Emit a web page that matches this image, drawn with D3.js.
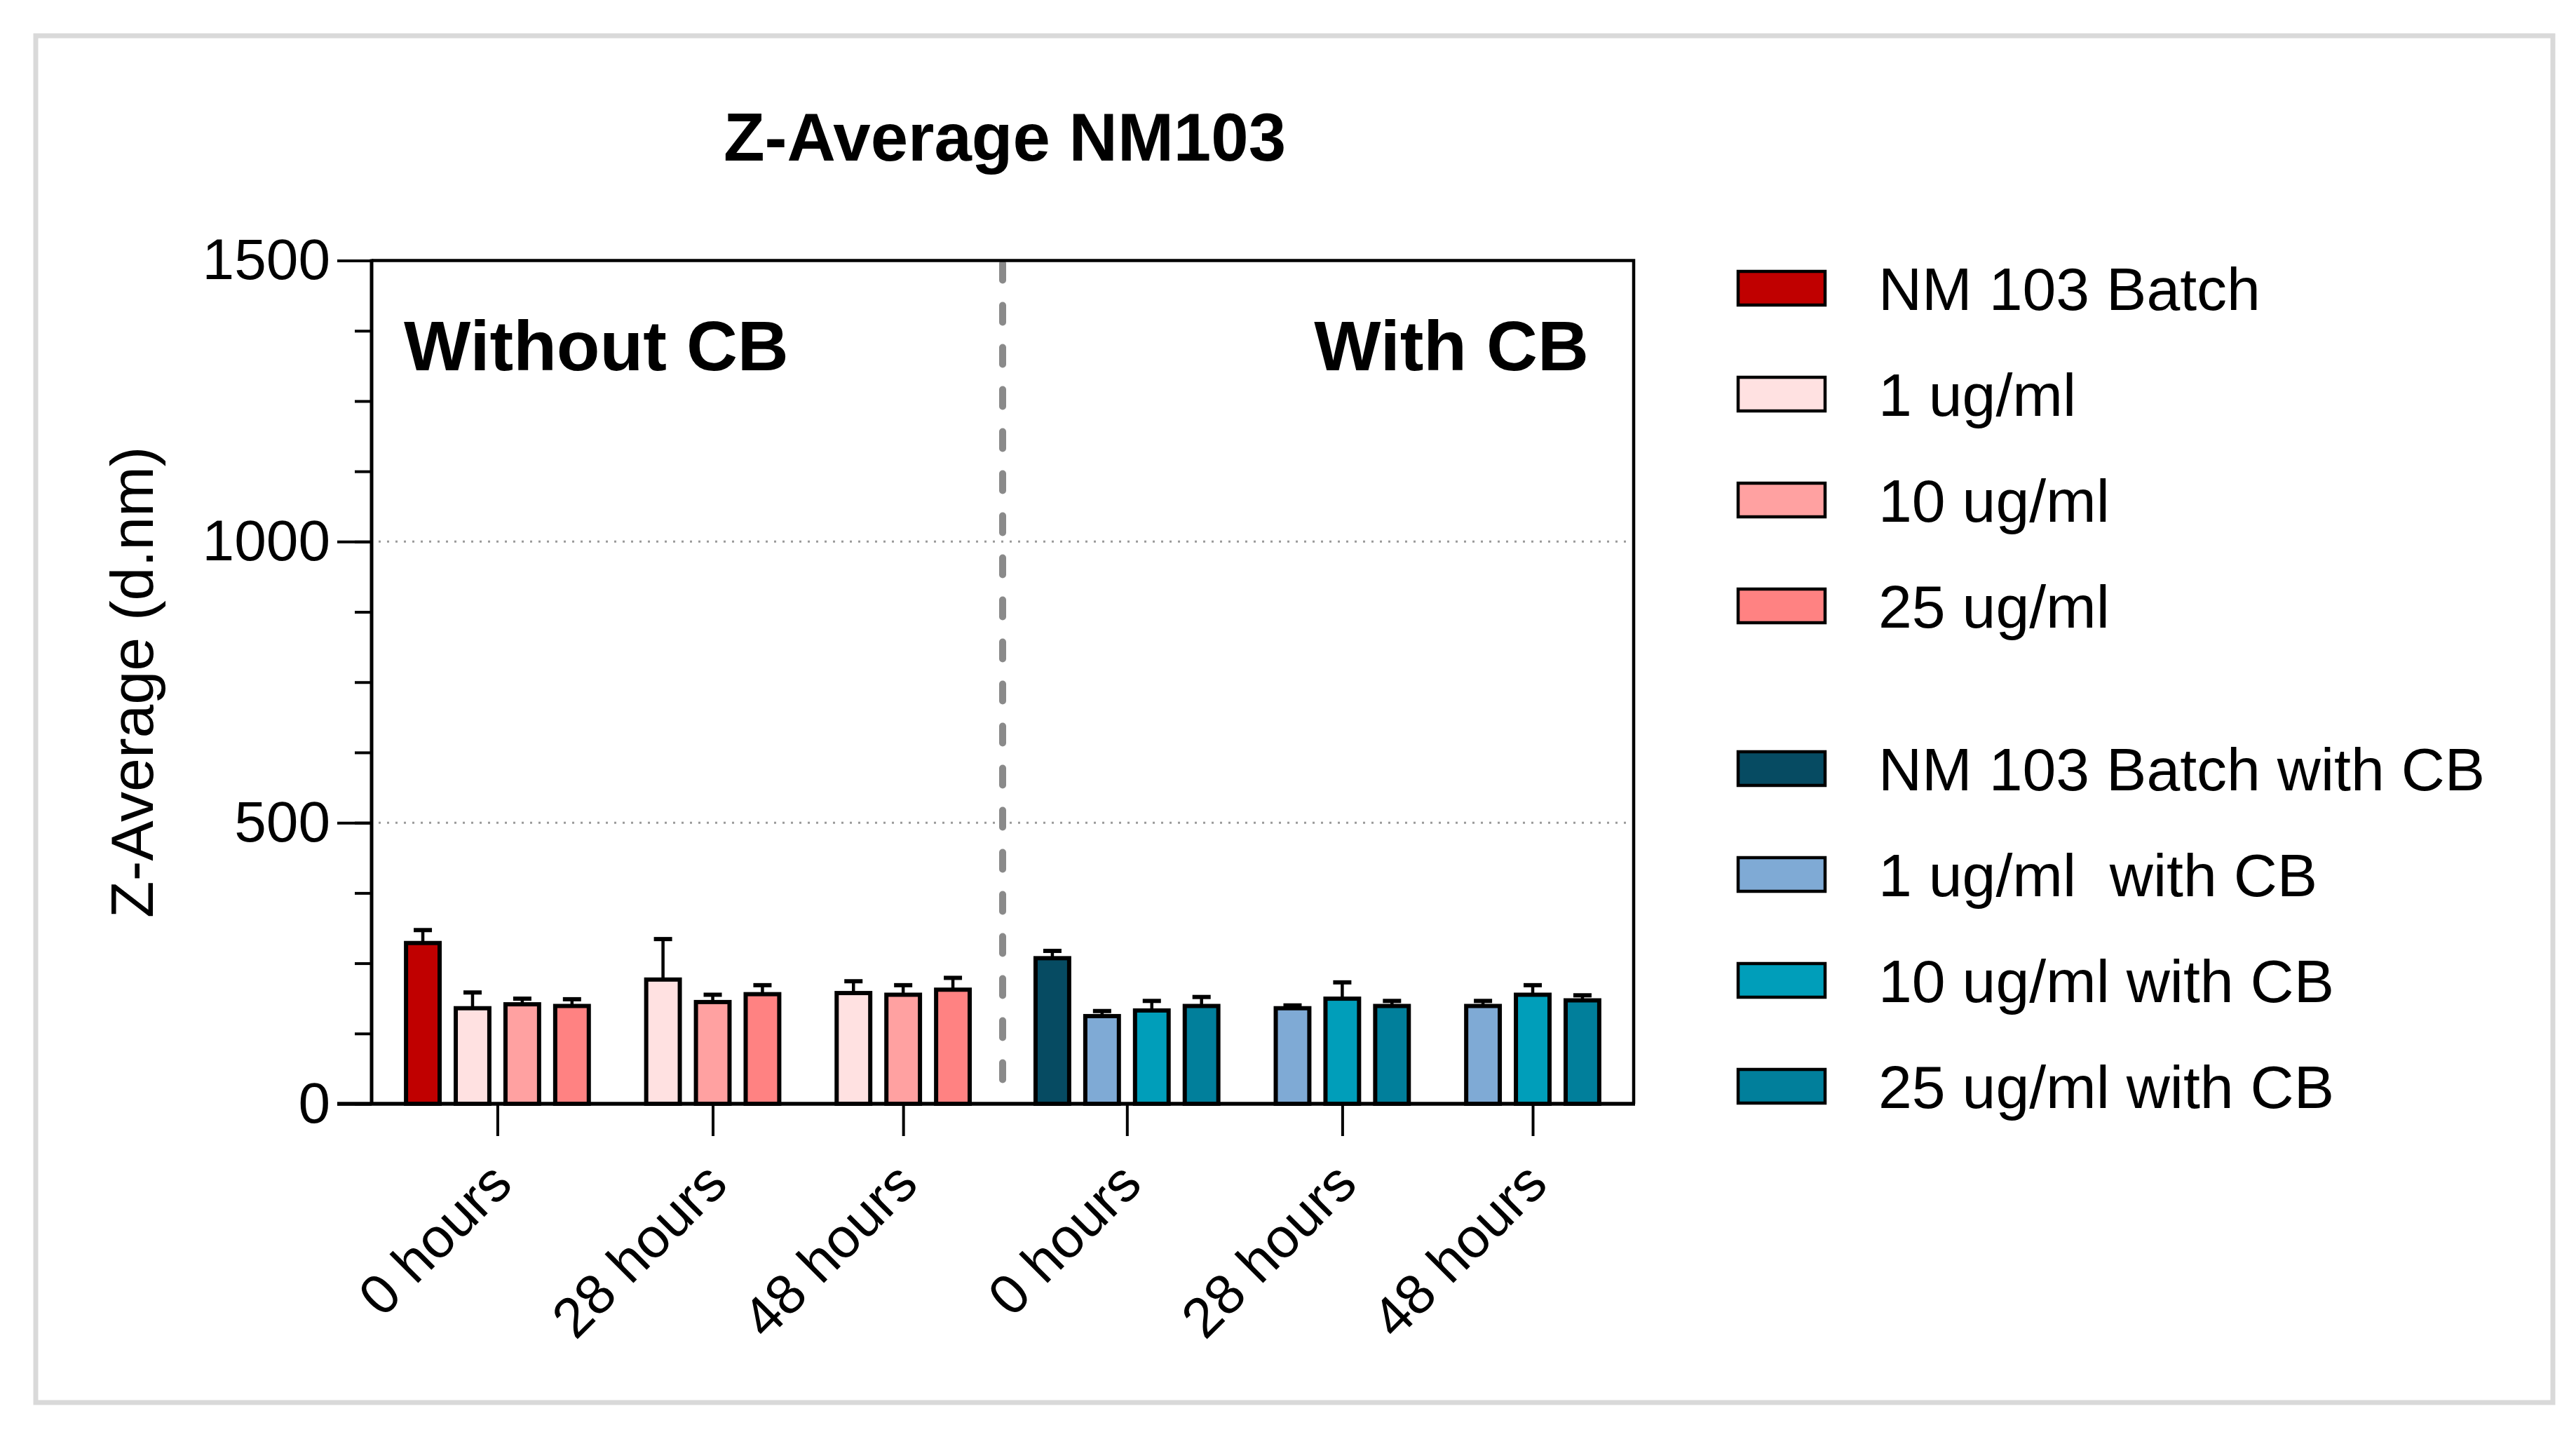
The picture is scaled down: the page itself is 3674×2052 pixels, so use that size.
<!DOCTYPE html>
<html>
<head>
<meta charset="utf-8">
<script src="https://cdn.jsdelivr.net/npm/d3@7"></script>
<style>
  body { margin: 0; background: #fff; }
  text { font-family: "Liberation Sans", Arial, sans-serif; white-space: pre; }
</style>
</head>
<body>
<div id="chart"></div>
<script>
// --- data ---
const timeLabels = ["0 hours", "28 hours", "48 hours"];
const seriesNames = [
  "NM 103 Batch", "1 ug/ml", "10 ug/ml", "25 ug/ml",
  "NM 103 Batch with CB", "1 ug/ml  with CB", "10 ug/ml with CB", "25 ug/ml with CB"
];
const seriesColors = [
  "#C00000", "#FFE1E1", "#FFA1A1", "#FF8282",
  "#064B62", "#7FAAD5", "#009EBA", "#017F9B"
];
const seriesHalf = [0, 0, 0, 0, 1, 1, 1, 1]; // 0 = without CB, 1 = with CB
// mean Z-average (d.nm) per time point, null = not measured
const zMean = [
  [286, null, null],
  [170, 221, 197],
  [177, 181, 194],
  [174, 195, 203],
  [259, null, null],
  [156, 170, 174],
  [166, 187, 194],
  [174, 174, 184]
];
// upper error (SD)
const zErr = [
  [23, null, null],
  [28, 72, 21],
  [10, 13, 17],
  [12, 16, 21],
  [13, null, null],
  [9, 5, 9],
  [17, 29, 17],
  [16, 9, 9]
];
const yMajor = [0, 500, 1000, 1500];
const yMinor = d3.range(0, 1501, 125);
const yGrid = [500, 1000];

const width = 3674;
const height = 2052;
const plotLeft = 530;
const plotRight = 2330;
const plotTop = 371.5;
const plotBottom = 1574;

const svg = d3.select("#chart").append("svg")
  .attr("width", width)
  .attr("height", height)
  .attr("viewBox", [0, 0, width, height]);

// outer frame
svg.append("rect")
  .attr("x", 51).attr("y", 51)
  .attr("width", 3590).attr("height", 1949)
  .attr("fill", "#fff")
  .attr("stroke", "#d9d9d9")
  .attr("stroke-width", 7);

// title
svg.append("text")
  .attr("x", 1433).attr("y", 229)
  .attr("text-anchor", "middle")
  .attr("font-size", 96)
  .attr("font-weight", "bold")
  .text("Z-Average NM103");

// --- layout of bar slots (units of one bar pitch) ---
const pad = 0.65, gap = 0.83, midGap = 1.0, barFrac = 0.76;
const bars = [];
const groups = [];
let pos = pad;
[0, 1].forEach((half) => {
  timeLabels.forEach((label, t) => {
    if (groups.length) pos += (half === 1 && t === 0) ? midGap : gap;
    const start = pos;
    seriesNames.forEach((name, s) => {
      if (seriesHalf[s] !== half || zMean[s][t] == null) return;
      bars.push({ s, t, half, start: pos, value: zMean[s][t], err: zErr[s][t] });
      pos += 1;
    });
    groups.push({ label, half, start, end: pos - 1 + barFrac });
  });
});
const totalUnits = pos - 1 + barFrac + pad;

const x = d3.scaleLinear().domain([0, totalUnits]).range([plotLeft, plotRight]);
const y = d3.scaleLinear().domain([0, 1500]).range([plotBottom, plotTop]);
const unit = x(1) - x(0);

// grid lines
svg.append("g")
  .selectAll("line")
  .data(yGrid)
  .join("line")
  .attr("x1", plotLeft + 10).attr("x2", plotRight - 4)
  .attr("y1", (d) => y(d)).attr("y2", (d) => y(d))
  .attr("stroke", "#9a9a9a")
  .attr("stroke-width", 3)
  .attr("stroke-dasharray", "3,9");

// divider between halves
const g3 = groups[2], g4 = groups[3];
const divX = x((g3.end + g4.start) / 2);
svg.append("line")
  .attr("x1", divX).attr("x2", divX)
  .attr("y1", plotTop + 4).attr("y2", 1540)
  .attr("stroke", "#8a8a8a")
  .attr("stroke-width", 10)
  .attr("stroke-linecap", "round")
  .attr("stroke-dasharray", "24,36");

// bars
svg.append("g")
  .selectAll("rect")
  .data(bars)
  .join("rect")
  .attr("x", (d) => x(d.start) + 3)
  .attr("y", (d) => y(d.value))
  .attr("width", unit * barFrac - 6)
  .attr("height", (d) => y(0) - y(d.value))
  .attr("fill", (d) => seriesColors[d.s])
  .attr("stroke", "#000")
  .attr("stroke-width", 6);

// error bars (upper only)
const errG = svg.append("g").attr("stroke", "#000");
errG.selectAll("line.v")
  .data(bars)
  .join("line")
  .attr("class", "v")
  .attr("x1", (d) => x(d.start) + unit * barFrac / 2)
  .attr("x2", (d) => x(d.start) + unit * barFrac / 2)
  .attr("y1", (d) => y(d.value))
  .attr("y2", (d) => y(d.value + d.err))
  .attr("stroke-width", 4.5);
errG.selectAll("line.cap")
  .data(bars)
  .join("line")
  .attr("class", "cap")
  .attr("x1", (d) => x(d.start) + unit * barFrac / 2 - 13)
  .attr("x2", (d) => x(d.start) + unit * barFrac / 2 + 13)
  .attr("y1", (d) => y(d.value + d.err))
  .attr("y2", (d) => y(d.value + d.err))
  .attr("stroke-width", 6);

// frame of plot: top and right
svg.append("path")
  .attr("d", `M${plotLeft},${plotTop}H${plotRight}V${plotBottom}`)
  .attr("fill", "none")
  .attr("stroke", "#000")
  .attr("stroke-width", 4.5);

// y axis: minor then major ticks
const yMinorAxis = svg.append("g")
  .attr("transform", `translate(${plotLeft},0)`)
  .call(d3.axisLeft(y).tickValues(yMinor).tickSize(24).tickFormat(""));
yMinorAxis.select(".domain").remove();
yMinorAxis.selectAll("line").attr("stroke-width", 4);

const yAxis = svg.append("g")
  .attr("transform", `translate(${plotLeft},0)`)
  .call(d3.axisLeft(y).tickValues(yMajor).tickSize(49).tickPadding(10).tickFormat(d3.format("d")));
yAxis.select(".domain").remove();
yAxis.selectAll("line").attr("stroke-width", 4);
yAxis.selectAll("text")
  .attr("font-size", 82)
  .attr("font-family", "Liberation Sans, Arial, sans-serif")
  .attr("fill", "#000");

svg.append("line")
  .attr("x1", plotLeft).attr("x2", plotLeft)
  .attr("y1", plotTop - 2).attr("y2", plotBottom + 2)
  .attr("stroke", "#000")
  .attr("stroke-width", 5);

// x axis
const xAxis = svg.append("g")
  .attr("transform", `translate(0,${plotBottom})`)
  .call(
    d3.axisBottom(x)
      .tickValues(groups.map((g) => (g.start + g.end) / 2))
      .tickSize(46)
      .tickFormat((d, i) => groups[i].label)
  );
xAxis.select(".domain").remove();
xAxis.selectAll("line").attr("stroke-width", 4);
xAxis.selectAll("text")
  .attr("x", 0).attr("y", 0).attr("dy", 0)
  .attr("text-anchor", "end")
  .attr("transform", "translate(24,118) rotate(-45)")
  .attr("font-size", 80)
  .attr("font-family", "Liberation Sans, Arial, sans-serif")
  .attr("fill", "#000");

svg.append("line")
  .attr("x1", plotLeft - 49).attr("x2", plotRight + 2)
  .attr("y1", plotBottom).attr("y2", plotBottom)
  .attr("stroke", "#000")
  .attr("stroke-width", 5.5);

// y label
svg.append("text")
  .attr("transform", `translate(218,${(plotTop + plotBottom) / 2}) rotate(-90)`)
  .attr("text-anchor", "middle")
  .attr("font-size", 86)
  .text("Z-Average (d.nm)");

// half labels
svg.append("text")
  .attr("x", 576).attr("y", 528)
  .attr("font-size", 101)
  .attr("font-weight", "bold")
  .text("Without CB");
svg.append("text")
  .attr("x", 2266).attr("y", 528)
  .attr("text-anchor", "end")
  .attr("font-size", 101)
  .attr("font-weight", "bold")
  .text("With CB");

// legend
const legendRows = seriesNames.map((name, i) => ({
  name,
  color: seriesColors[i],
  cy: 411 + i * 151 + (seriesHalf[i] === 1 ? 81 : 0)
}));
const legend = svg.append("g");
legend.selectAll("rect")
  .data(legendRows)
  .join("rect")
  .attr("x", 2479).attr("y", (d) => d.cy - 24)
  .attr("width", 124).attr("height", 48)
  .attr("fill", (d) => d.color)
  .attr("stroke", "#000")
  .attr("stroke-width", 4.5);
legend.selectAll("text")
  .data(legendRows)
  .join("text")
  .attr("x", 2679).attr("y", (d) => d.cy)
  .attr("dy", "0.36em")
  .attr("font-size", 86)
  .text((d) => d.name);
</script>
</body>
</html>
